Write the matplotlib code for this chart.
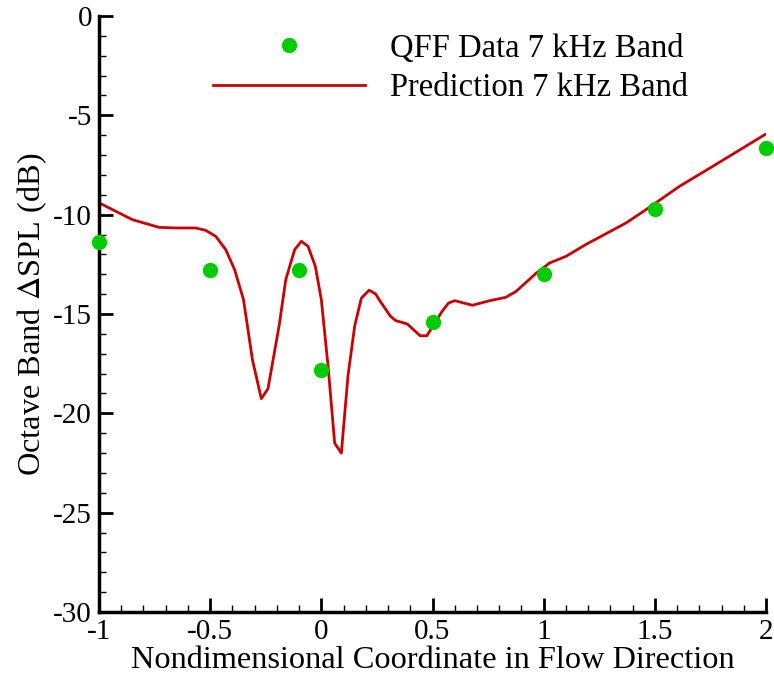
import numpy as np
import matplotlib
matplotlib.use("Agg")
import matplotlib.pyplot as plt
from matplotlib.ticker import MultipleLocator, FuncFormatter

plt.rcParams['font.family'] = ['Liberation Serif', 'DejaVu Serif']
plt.rcParams['mathtext.fontset'] = 'stix'

# QFF measured data, 7 kHz band
data_x = [-1.0, -0.5, -0.1, 0.0, 0.5, 1.0, 1.5, 2.0]
data_y = [-11.4, -12.8, -12.8, -17.8, -15.4, -13.0, -9.7, -6.65]

# prediction curve, 7 kHz band
pred_x = [-0.99, -0.85, -0.73, -0.655, -0.565, -0.52, -0.475, -0.43, -0.39, -0.35,
          -0.31, -0.27, -0.24, -0.19, -0.16, -0.12, -0.09, -0.06, -0.027, 0.0,
          0.03, 0.06, 0.09, 0.12, 0.15, 0.18, 0.215, 0.245, 0.26, 0.31, 0.334,
          0.386, 0.445, 0.475, 0.505, 0.543, 0.572, 0.60, 0.68, 0.757, 0.83,
          0.876, 0.967, 1.027, 1.10, 1.19, 1.37, 1.46, 1.61, 1.76, 1.995]
pred_y = [-9.46, -10.25, -10.64, -10.67, -10.67, -10.79, -11.09, -11.76, -12.77, -14.28,
          -17.3, -19.26, -18.76, -15.6, -13.27, -11.76, -11.34, -11.59, -12.6, -14.28,
          -17.6, -21.5, -22.0, -18.1, -15.6, -14.2, -13.8, -14.0, -14.28, -15.1, -15.33,
          -15.5, -16.1, -16.09, -15.54, -14.87, -14.45, -14.33, -14.56, -14.33, -14.16,
          -13.86, -12.94, -12.43, -12.1, -11.5, -10.42, -9.75, -8.58, -7.57, -5.97]

fig = plt.figure(figsize=(7.74, 6.81), dpi=100)
ax = fig.add_axes([99 / 774, 1 - 612 / 681, 667 / 774, 596 / 681])

ax.plot(data_x, data_y, 'o', color='#00cc00', markersize=10, clip_on=False,
        label='QFF Data 7 kHz Band', zorder=3)
ax.plot(pred_x, pred_y, '-', color='#cc0000', linewidth=2,
        label='Prediction 7 kHz Band', zorder=2)

ax.set_xlim(-1, 2)
ax.set_ylim(-30, 0)
ax.xaxis.set_major_locator(MultipleLocator(0.5))
ax.xaxis.set_minor_locator(MultipleLocator(0.1))
ax.yaxis.set_major_locator(MultipleLocator(5))
ax.yaxis.set_minor_locator(MultipleLocator(1))
ax.xaxis.set_major_formatter(FuncFormatter(lambda v, p: f"{v:g}"))
ax.yaxis.set_major_formatter(FuncFormatter(lambda v, p: f"{v:g}"))

for s in ['top', 'right']:
    ax.spines[s].set_visible(False)
for s in ['left', 'bottom']:
    ax.spines[s].set_linewidth(2.5)

ax.tick_params(which='major', direction='in', length=10, width=2, labelsize=21, pad=5)
ax.tick_params(which='minor', direction='in', length=5, width=1)

ax.set_xlabel('Nondimensional Coordinate in Flow Direction', fontsize=23.3, labelpad=1)
ax.set_ylabel('Octave Band $\\Delta$SPL (dB)', fontsize=23.3, labelpad=3)

ax.legend(loc='upper left', bbox_to_anchor=(213 / 774, 1 - 33 / 681),
          bbox_transform=fig.transFigure, frameon=False, fontsize=23.5,
          handlelength=4.65, handletextpad=0.77, borderaxespad=0, borderpad=0,
          labelspacing=0.28)

fig.savefig('out.png', dpi=100)
